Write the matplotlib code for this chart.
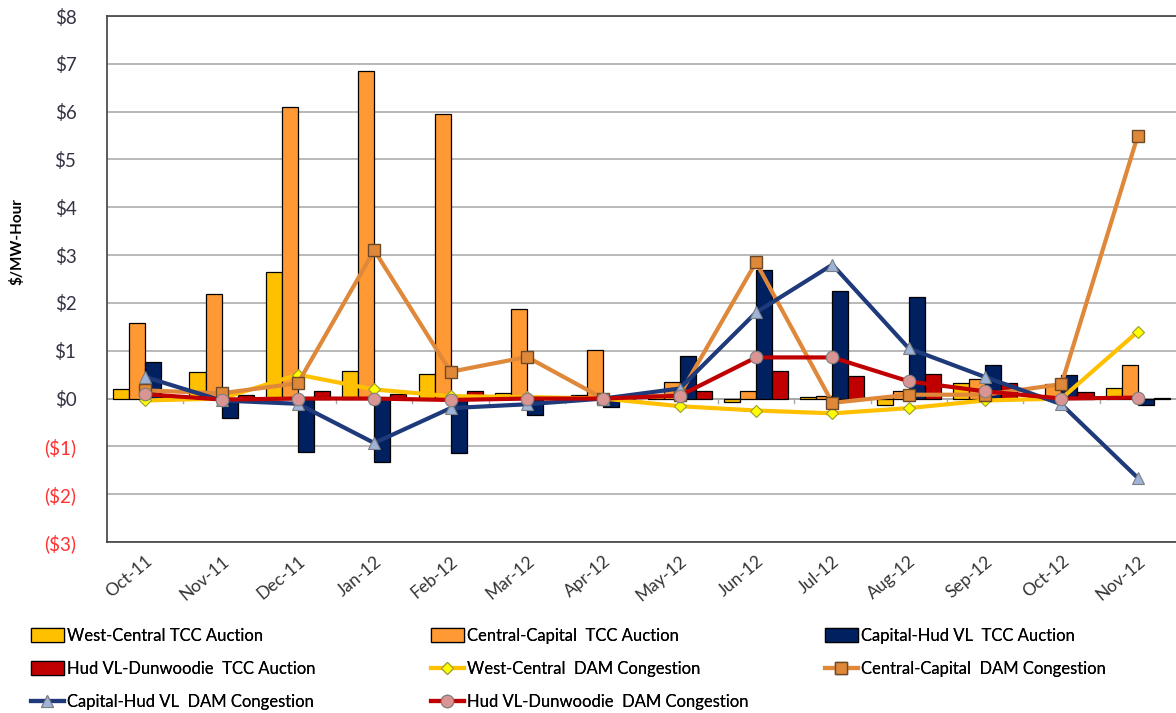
import matplotlib
matplotlib.use("Agg")
import matplotlib.pyplot as plt
import numpy as np

months = ["Oct-11", "Nov-11", "Dec-11", "Jan-12", "Feb-12", "Mar-12", "Apr-12",
          "May-12", "Jun-12", "Jul-12", "Aug-12", "Sep-12", "Oct-12", "Nov-12"]

wc_tcc = [0.19, 0.55, 2.64, 0.58, 0.52, 0.12, 0.08, 0.05, -0.07, 0.03, -0.13, 0.32, 0.05, 0.23]
cc_tcc = [1.59, 2.18, 6.10, 6.85, 5.96, 1.88, 1.01, 0.35, 0.16, 0.06, 0.15, 0.40, 0.30, 0.70]
ch_tcc = [0.76, -0.40, -1.11, -1.32, -1.14, -0.34, -0.17, 0.90, 2.68, 2.24, 2.13, 0.70, 0.49, -0.14]
hd_tcc = [0.05, 0.07, 0.15, 0.10, 0.15, 0.02, 0.01, 0.15, 0.58, 0.47, 0.52, 0.32, 0.14, 0.01]

wc_dam = [-0.04, 0.00, 0.50, 0.19, 0.05, 0.03, 0.00, -0.16, -0.25, -0.31, -0.20, -0.04, 0.00, 1.40]
cc_dam = [0.17, 0.11, 0.32, 3.10, 0.56, 0.87, 0.00, 0.08, 2.85, -0.09, 0.08, 0.08, 0.30, 5.50]
ch_dam = [0.45, -0.04, -0.11, -0.93, -0.20, -0.12, 0.00, 0.21, 1.80, 2.80, 1.05, 0.45, -0.12, -1.66]
hd_dam = [0.09, -0.02, 0.00, 0.00, -0.03, 0.00, 0.00, 0.06, 0.86, 0.86, 0.36, 0.15, 0.00, 0.02]

yticks = [8, 7, 6, 5, 4, 3, 2, 1, 0, -1, -2, -3]
ytick_labels = ["$8", "$7", "$6", "$5", "$4", "$3", "$2", "$1", "$0", "($1)", "($2)", "($3)"]

plt.rcParams['font.family'] = ['Lato', 'DejaVu Sans']

fig = plt.figure(figsize=(11.76, 7.13), dpi=100)
ax = fig.add_axes([107/1176, 1-542/713, 1-107/1176, (542-16)/713])

x = np.arange(len(months))
w = 0.21
ax.set_axisbelow(True)
ax.yaxis.grid(True, color="#A6A6A6", linewidth=1.1)

b1 = ax.bar(x - 1.5*w, wc_tcc, w, color="#FFC000", edgecolor="black", linewidth=0.9, label="West-Central TCC Auction", zorder=2)
b2 = ax.bar(x - 0.5*w, cc_tcc, w, color="#FF9933", edgecolor="black", linewidth=0.9, label="Central-Capital  TCC Auction", zorder=2)
b3 = ax.bar(x + 0.5*w, ch_tcc, w, color="#002060", edgecolor="black", linewidth=0.9, label="Capital-Hud VL  TCC Auction", zorder=2)
b4 = ax.bar(x + 1.5*w, hd_tcc, w, color="#C00000", edgecolor="black", linewidth=0.9, label="Hud VL-Dunwoodie  TCC Auction", zorder=2)

ax.axhline(0, color="#A6A6A6", linewidth=1.1, zorder=1.5)

l1, = ax.plot(x, wc_dam, color="#FFC000", linewidth=3, marker="D", markersize=6,
              markerfacecolor="#FFFF00", markeredgecolor="#9A9A30", markeredgewidth=0.8,
              label="West-Central  DAM Congestion", zorder=3)
l2, = ax.plot(x, cc_dam, color="#E0883A", linewidth=3, marker="s", markersize=9,
              markerfacecolor="#E0883A", markeredgecolor="#6B4A2A", markeredgewidth=1.0,
              label="Central-Capital  DAM Congestion", zorder=3)
l3, = ax.plot(x, ch_dam, color="#1F3A7A", linewidth=3, marker="^", markersize=8,
              markerfacecolor="#9DB3D9", markeredgecolor="#7F7F7F", markeredgewidth=0.8,
              label="Capital-Hud VL  DAM Congestion", zorder=3)
l4, = ax.plot(x, hd_dam, color="#C00000", linewidth=3, marker="o", markersize=9,
              markerfacecolor="#D99594", markeredgecolor="#7F7F7F", markeredgewidth=0.8,
              label="Hud VL-Dunwoodie  DAM Congestion", zorder=3)

# small category-boundary tick marks on the zero line
for bx in np.arange(0.5, len(months) - 0.5, 1.0):
    ax.plot([bx, bx], [0, -0.1], color="#A6A6A6", linewidth=1, zorder=1.5)

ax.set_xlim(-0.5, len(months) - 0.5)
ax.set_ylim(-3, 8)
ax.set_yticks(yticks)
ax.set_yticklabels(ytick_labels)
for lab, v in zip(ax.get_yticklabels(), yticks):
    lab.set_color("#FF3333" if v < 0 else "#333344")
ax.tick_params(axis="y", length=0, pad=22, labelsize=13.5)
ax.set_xticks(x)
ax.set_xticklabels(months, rotation=40, ha="right", rotation_mode="anchor", color="#333333", fontsize=12.5)
ax.tick_params(axis="x", length=0, pad=8)

for s in ["top", "left", "bottom"]:
    ax.spines[s].set_color("#404040")
    ax.spines[s].set_linewidth(1.2)
ax.spines["right"].set_visible(False)

fig.text(17/1176, 1-242/713, "$/MW-Hour", rotation=90, fontweight="bold", fontsize=11,
         ha="center", va="center", color="black")

columns = [([b1, b4, l3], 24), ([b2, l1, l4], 424), ([b3, l2], 818)]
for hs, xpx in columns:
    leg = fig.legend(hs, [h.get_label() for h in hs], ncol=1, loc="upper left",
                     bbox_to_anchor=(xpx/1176, 1-621/713), frameon=False, fontsize=12,
                     handlelength=2.0, handleheight=0.9, handletextpad=0.2,
                     labelspacing=1.03, borderaxespad=0)
    fig.add_artist(leg)

fig.savefig("out.png", dpi=100)
